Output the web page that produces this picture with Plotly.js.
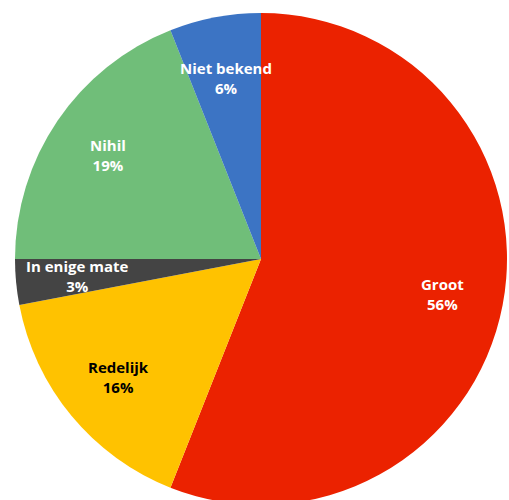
<!DOCTYPE html>
<html>
<head>
<meta charset="utf-8">
<script src="https://cdn.plot.ly/plotly-3.0.1.min.js"></script>
<style>
html,body{margin:0;padding:0;overflow:hidden;background:#fff;}
#chart{width:509px;height:510px;}
</style>
</head>
<body>
<div id="chart"></div>
<script>
const categories = ["Groot", "Redelijk", "In enige mate", "Nihil", "Niet bekend"];
const values = [56, 16, 3, 19, 6];
const colors = ["#EB2200", "#FFC200", "#444444", "#70BE79", "#3C74C4"];
const textColors = ["#ffffff", "#000000", "#ffffff", "#ffffff", "#ffffff"];

const W = 509, H = 510;
const dom = {x: [15/W, 507/W], y: [5/H, 497/H]};

const trace = {
  type: "pie",
  labels: categories,
  values: values,
  sort: false,
  direction: "clockwise",
  rotation: 0,
  marker: {colors: colors, line: {width: 0}},
  textinfo: "none",
  hoverinfo: "none",
  showlegend: false,
  domain: dom
};

// label positions derived from slice mid-angles
const total = values.reduce((a, b) => a + b, 0);
const cx = (dom.x[0] + dom.x[1]) / 2 * W;
const cy = (dom.y[0] + dom.y[1]) / 2 * H;
const R = Math.min((dom.x[1] - dom.x[0]) * W, (dom.y[1] - dom.y[0]) * H) / 2;
const rf = 0.75;
let cum = 0;
const annotations = categories.map((c, i) => {
  const mid = (cum + values[i] / 2) / total * 2 * Math.PI;
  cum += values[i];
  const px = cx + rf * R * Math.sin(mid);
  const py = cy + rf * R * Math.cos(mid);
  return {
    xref: "paper", yref: "paper",
    x: px / W, y: py / H,
    xanchor: "center", yanchor: "middle",
    showarrow: false,
    text: "<b>" + c + "</b><br><b>" + Math.round(values[i] / total * 100) + "%</b>",
    font: {family: "Open Sans, sans-serif", size: 15, color: textColors[i]},
    align: "center"
  };
});

Plotly.newPlot("chart", [trace], {
  width: W, height: H,
  margin: {l: 0, r: 0, t: 0, b: 0},
  paper_bgcolor: "#ffffff",
  showlegend: false,
  annotations: annotations
}, {staticPlot: true});
</script>
</body>
</html>
